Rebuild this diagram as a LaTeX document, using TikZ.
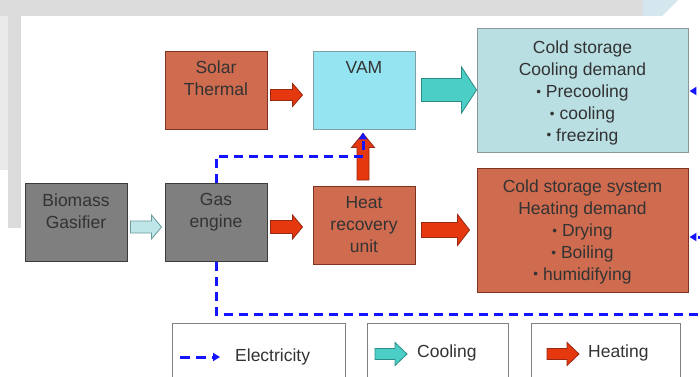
\documentclass[tikz,border=0pt]{standalone}
\usepackage{fontspec}
\setmainfont{Liberation Sans}
\usetikzlibrary{calc,arrows.meta}

\definecolor{framegray}{HTML}{DCDCDC}
\definecolor{framelight}{HTML}{EAEAEA}
\definecolor{cornerblue}{HTML}{D4E6EE}
\definecolor{salmon}{HTML}{CF6B4F}
\definecolor{salmonline}{HTML}{7E3322}
\definecolor{boxgray}{HTML}{7F7F7F}
\definecolor{grayline}{HTML}{3C3C3C}
\definecolor{vamcyan}{HTML}{95E4F1}
\definecolor{vamline}{HTML}{7F9FA6}
\definecolor{coolfill}{HTML}{B9DFE3}
\definecolor{coolline}{HTML}{8A9899}
\definecolor{heatred}{HTML}{E5380F}
\definecolor{heatline}{HTML}{962A12}
\definecolor{coolteal}{HTML}{4ACEC6}
\definecolor{tealline}{HTML}{2C8C86}
\definecolor{gaspale}{HTML}{BEE5E7}
\definecolor{paleline}{HTML}{6A9A9C}
\definecolor{txtgray}{HTML}{333333}
\definecolor{elecblue}{HTML}{1414FF}

\newcommand{\smbullet}{\raisebox{1.2pt}{\fontsize{13.5}{13.5}\selectfont\textbullet}}

\tikzset{
  blockbox/.style={draw, line width=0.9pt, minimum width=102pt, minimum height=78pt, inner sep=0pt},
  salbox/.style={blockbox, fill=salmon, draw=salmonline},
  graybox/.style={blockbox, fill=boxgray, draw=grayline},
  vambox/.style={blockbox, fill=vamcyan, draw=vamline},
  demandbox/.style={blockbox, minimum width=211pt, minimum height=124pt},
  legendbox/.style={draw=black!50, line width=0.8pt, fill=white, minimum height=77pt, inner sep=0pt},
  boxtext/.style={anchor=north, align=center, text=txtgray, inner sep=0pt,
    font=\fontsize{17.5}{21.8}\selectfont},
  legtext/.style={anchor=west, text=txtgray, inner sep=0pt, font=\fontsize{17.5}{21.8}\selectfont},
  heatarrow/.style={fill=heatred, draw=heatline, line width=0.8pt, line join=miter},
  coolarrow/.style={fill=coolteal, draw=tealline, line width=0.8pt, line join=miter},
  gasarrow/.style={fill=gaspale, draw=paleline, line width=0.8pt, line join=miter},
  elec/.style={draw=elecblue, line width=3pt, dash pattern=on 9pt off 6pt,
    -{Triangle[length=7pt,width=8pt]}},
  % block arrow: shaft half width, head half width, head length
  blockarrow/.style n args={3}{to path={
    -- ($(\tikztostart)!#1pt!90:(\tikztotarget)$)
    -- ($($(\tikztotarget)!#3pt!(\tikztostart)$)!#1pt!-90:(\tikztostart)$)
    -- ($($(\tikztotarget)!#3pt!(\tikztostart)$)!#2pt!-90:(\tikztostart)$)
    -- (\tikztotarget)
    -- ($($(\tikztotarget)!#3pt!(\tikztostart)$)!#2pt!90:(\tikztostart)$)
    -- ($($(\tikztotarget)!#3pt!(\tikztostart)$)!#1pt!90:(\tikztostart)$)
    -- ($(\tikztostart)!#1pt!-90:(\tikztotarget)$)
    -- cycle}},
}

\begin{document}
\begin{tikzpicture}[x=1pt,y=-1pt]
  \useasboundingbox (0,0) rectangle (700,376);
  \clip (0,0) rectangle (700,376);

  % slide frame
  \fill[framegray] (0,0) rectangle (643,16);
  \fill[framegray] (8,0) rectangle (21,228);
  \fill[framelight] (0,16) rectangle (8,170);
  \fill[cornerblue] (643,0) -- (678,0) -- (662,16) -- (643,16) -- cycle;

  % boxes
  \node[salbox, label={[boxtext, yshift=-10.5pt]north:{Solar\\Thermal}}] (solar) at (216,90) {};
  \node[vambox, label={[boxtext, yshift=-10.5pt]north:{VAM}}] (vam) at (364,90) {};
  \node[demandbox, fill=coolfill, draw=coolline,
    label={[boxtext, yshift=-13.5pt]north:{Cold storage\\Cooling demand\\\smbullet{} Precooling\\\smbullet{} cooling\\\smbullet{} freezing}}] (cool) at (582.5,90) {};
  \node[graybox, label={[boxtext, yshift=-10.5pt]north:{Biomass\\Gasifier}}] (bio) at (76,222.5) {};
  \node[graybox, label={[boxtext, yshift=-10.5pt]north:{Gas\\engine}}] (gas) at (216,222.5) {};
  \node[salbox, label={[boxtext, yshift=-10.5pt]north:{Heat\\recovery\\unit}}] (hru) at (364,225.5) {};
  \node[demandbox, fill=salmon, draw=salmonline,
    label={[boxtext, yshift=-12.5pt]north:{Cold storage system\\Heating demand\\\smbullet{} Drying\\\smbullet{} Boiling\\\smbullet{} humidifying}}] (heat) at (582.5,230) {};

  % flows
  \draw[heatarrow] ([xshift=3pt,yshift=-5pt]solar.east) to[blockarrow={5.5}{11.5}{10}] ([xshift=-10pt,yshift=-5pt]vam.west);
  \draw[coolarrow] ([xshift=6pt]vam.east) to[blockarrow={11.5}{23}{15}] (cool.west);
  \draw[gasarrow] ([xshift=3pt,yshift=-4.5pt]bio.east) to[blockarrow={6}{12}{10}] ([xshift=-3pt,yshift=-4.5pt]gas.west);
  \draw[heatarrow] ([xshift=3pt,yshift=-4.5pt]gas.east) to[blockarrow={6.5}{12}{10}] ([xshift=-10pt,yshift=-1.5pt]hru.west);
  \draw[heatarrow] ([xshift=-1pt,yshift=6pt]hru.north) to[blockarrow={6}{11.5}{14}] ([xshift=-1pt,yshift=-4pt]vam.south);
  \draw[heatarrow] ([xshift=6pt,yshift=-4.5pt]hru.east) to[blockarrow={7.5}{15.5}{12}] ([xshift=-7pt]heat.west);

  % electricity
  \coordinate (ebend) at (712,314);
  \draw[elec] (gas.north) -- ++(0,-27) -| ([xshift=-1pt,yshift=-3pt]vam.south);
  \draw[elec] (gas.south) |- (ebend) |- ([xshift=1pt,yshift=-7pt]heat.east);
  \draw[elec] (ebend) |- ([xshift=1pt,yshift=-1pt]cool.east);

  % legend
  \node[legendbox, minimum width=173pt] (legelec) at (258.5,361.5) {};
  \node[legendbox, minimum width=141pt] (legcool) at (437.5,361.5) {};
  \node[legendbox, minimum width=149pt] (legheat) at (605.5,361.5) {};
  \node[legtext] (electxt) at (235,357) {Electricity};
  \node[legtext] (cooltxt) at (417,353) {Cooling};
  \node[legtext] (heattxt) at (588,353) {Heating};
  \draw[elec, dash pattern=on 10pt off 6pt] ([xshift=-55pt]electxt.west) -- ([xshift=-15pt]electxt.west);
  \draw[coolarrow] ([xshift=-42pt,yshift=-1pt]cooltxt.west) to[blockarrow={5.5}{11.5}{12}] ([xshift=-10pt,yshift=-1pt]cooltxt.west);
  \draw[heatarrow] ([xshift=-41pt,yshift=-1pt]heattxt.west) to[blockarrow={5.5}{11.5}{12}] ([xshift=-9pt,yshift=-1pt]heattxt.west);
\end{tikzpicture}
\end{document}
